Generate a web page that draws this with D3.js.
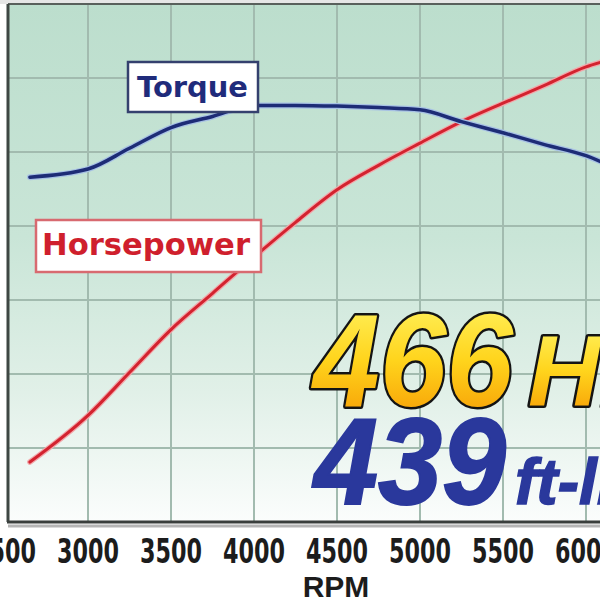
<!DOCTYPE html>
<html>
<head>
<meta charset="utf-8">
<script src="https://cdn.jsdelivr.net/npm/d3@7"></script>
<style>
  html, body { margin: 0; padding: 0; background: #fff; }
  svg { display: block; }
</style>
</head>
<body>
<div id="chart"></div>
<script>
'use strict';

// rpm ticks along the bottom
var rpmTicks = [2500, 3000, 3500, 4000, 4500, 5000, 5500, 6000];
var gridValues = [200, 250, 300, 350, 400, 450];

// values
var rpm = [2650, 3000, 3250, 3500, 3750, 4000, 4250, 4500, 4750, 5000, 5250, 5500, 5750, 6000, 6100];
var torque = [383, 388.5, 402.5, 416.5, 424, 431.5, 431.5, 431, 430, 428.5, 420.5, 413, 405, 397.5, 393];
var horsepower = [190.5, 222, 251, 280, 304.5, 329, 352.5, 374.5, 391, 406, 420.5, 433, 445, 457.5, 461];

var peakHp = "466", peakTq = "439";

var W = 600, H = 600;
var plot = {left: 8, top: 4, right: 640, bottom: 522};

var svg = d3.select("#chart").append("svg")
  .attr("width", W).attr("height", H);

var x = d3.scaleLinear().domain([2500, 6000]).range([5, 586]);
var y = d3.scaleLinear().domain([150, 500]).range([plot.bottom, plot.top]);

var defs = svg.append("defs");
var bg = defs.append("linearGradient").attr("id", "bg")
  .attr("x1", 0).attr("y1", 0).attr("x2", 0).attr("y2", 1);
bg.append("stop").attr("offset", "0").attr("stop-color", "#bcdecd");
bg.append("stop").attr("offset", "0.45").attr("stop-color", "#c9e5d7");
bg.append("stop").attr("offset", "0.75").attr("stop-color", "#e1f0e8");
bg.append("stop").attr("offset", "1").attr("stop-color", "#fbfdfc");

var gold = defs.append("linearGradient").attr("id", "gold")
  .attr("x1", 0).attr("y1", 0).attr("x2", 0).attr("y2", 1);
gold.append("stop").attr("offset", "0").attr("stop-color", "#fff86a");
gold.append("stop").attr("offset", "0.5").attr("stop-color", "#ffd41c");
gold.append("stop").attr("offset", "1").attr("stop-color", "#f59200");

defs.append("clipPath").attr("id", "clip")
  .append("rect")
  .attr("x", plot.left).attr("y", plot.top)
  .attr("width", plot.right - plot.left).attr("height", plot.bottom - plot.top);

// top strip above the frame
svg.append("rect").attr("x", 0).attr("y", 0).attr("width", W).attr("height", plot.top)
  .attr("fill", "#e6e6e6");

svg.append("rect")
  .attr("x", plot.left).attr("y", plot.top)
  .attr("width", plot.right - plot.left).attr("height", plot.bottom - plot.top)
  .attr("fill", "url(#bg)");

var grid = svg.append("g").attr("clip-path", "url(#clip)")
  .attr("stroke", "#a2bbaf").attr("stroke-width", 2);

grid.selectAll("line.v").data(rpmTicks.slice(1)).enter().append("line")
  .attr("class", "v")
  .attr("x1", function(d) { return x(d); }).attr("x2", function(d) { return x(d); })
  .attr("y1", plot.top).attr("y2", plot.bottom);

grid.selectAll("line.h").data(gridValues).enter().append("line")
  .attr("class", "h")
  .attr("x1", plot.left).attr("x2", plot.right)
  .attr("y1", function(d) { return y(d); }).attr("y2", function(d) { return y(d); });

// frame
svg.append("line").attr("x1", plot.left).attr("x2", W).attr("y1", plot.bottom + 4).attr("y2", plot.bottom + 4)
  .attr("stroke", "#b5b5b5").attr("stroke-width", 3);
svg.append("line").attr("x1", plot.left).attr("x2", W).attr("y1", plot.top).attr("y2", plot.top)
  .attr("stroke", "#59605c").attr("stroke-width", 2);
svg.append("line").attr("x1", plot.left).attr("x2", plot.left).attr("y1", plot.top).attr("y2", plot.bottom)
  .attr("stroke", "#3e4743").attr("stroke-width", 3);
svg.append("line").attr("x1", plot.left - 1).attr("x2", W).attr("y1", plot.bottom).attr("y2", plot.bottom)
  .attr("stroke", "#3a3f3d").attr("stroke-width", 3);

// curves
var line = d3.line().curve(d3.curveMonotoneX);

function drawCurve(values, color, halo, width) {
  var pts = rpm.map(function(r, i) { return [x(r), y(values[i])]; });
  svg.append("path").attr("d", line(pts))
    .attr("fill", "none").attr("stroke", halo).attr("stroke-width", width + 2.5)
    .attr("stroke-linejoin", "round").attr("stroke-linecap", "round");
  svg.append("path").attr("d", line(pts))
    .attr("fill", "none").attr("stroke", color).attr("stroke-width", width)
    .attr("stroke-linejoin", "round").attr("stroke-linecap", "round");
}
drawCurve(horsepower, "#d3232f", "#f2a7aa", 3);
drawCurve(torque, "#1d2c76", "#a7c1e4", 3.5);

// legend boxes
function legendBox(label, bx, by, bw, bh, stroke, fill, fs, tx, tb, tl) {
  svg.append("rect").attr("x", bx).attr("y", by).attr("width", bw).attr("height", bh)
    .attr("fill", "#fff").attr("stroke", stroke).attr("stroke-width", 2.5);
  svg.append("text").attr("x", tx).attr("y", tb)
    .attr("textLength", tl).attr("lengthAdjust", "spacingAndGlyphs")
    .style("font-family", "'DejaVu Sans', Verdana, sans-serif")
    .style("font-weight", "bold").style("font-size", fs + "px")
    .attr("fill", fill).text(label);
}
legendBox("Torque", 128, 62, 130, 50, "#34406e", "#1f2b7b", 28, 137, 97, 111);
legendBox("Horsepower", 36, 220, 225, 52, "#d86a70", "#cf1f2d", 30, 42, 255, 208);

// peak numbers
var big = svg.append("g")
  .style("font-family", "'Liberation Sans', Arial, sans-serif")
  .style("font-weight", "bold").style("font-style", "italic");

big.append("text").attr("x", 313).attr("y", 406)
  .attr("textLength", 200).attr("lengthAdjust", "spacingAndGlyphs")
  .style("font-size", "132px")
  .attr("fill", "url(#gold)").attr("stroke", "#141414").attr("stroke-width", 5)
  .attr("stroke-linejoin", "round").attr("paint-order", "stroke")
  .text(peakHp);
big.append("text").attr("x", 528).attr("y", 406)
  .style("font-size", "100px")
  .attr("fill", "url(#gold)").attr("stroke", "#141414").attr("stroke-width", 5)
  .attr("stroke-linejoin", "round").attr("paint-order", "stroke")
  .text("HP");

big.append("text").attr("x", 314).attr("y", 504)
  .attr("textLength", 192).attr("lengthAdjust", "spacingAndGlyphs")
  .style("font-size", "122px")
  .attr("fill", "#2a389c").attr("stroke", "#2a389c").attr("stroke-width", 2)
  .text(peakTq);
big.append("text").attr("x", 515).attr("y", 504)
  .style("font-size", "64px")
  .attr("fill", "#2a389c").attr("stroke", "#2a389c").attr("stroke-width", 1.5)
  .text("ft-lbs");

// rpm axis labels
svg.append("g").selectAll("text").data(rpmTicks).enter().append("text")
  .attr("x", function(d) { return x(d); }).attr("y", 563)
  .attr("text-anchor", "middle")
  .attr("textLength", 62).attr("lengthAdjust", "spacingAndGlyphs")
  .style("font-family", "'Liberation Sans Narrow', 'DejaVu Sans Condensed', Arial, sans-serif")
  .style("font-weight", "bold").style("font-size", "34px")
  .attr("fill", "#1c1c1c")
  .text(function(d) { return d; });

svg.append("text").attr("x", 336).attr("y", 597)
  .attr("text-anchor", "middle")
  .style("font-family", "'Liberation Sans', Arial, sans-serif")
  .style("font-weight", "bold").style("font-size", "30px")
  .attr("fill", "#1c1c1c").text("RPM");
</script>
</body>
</html>
